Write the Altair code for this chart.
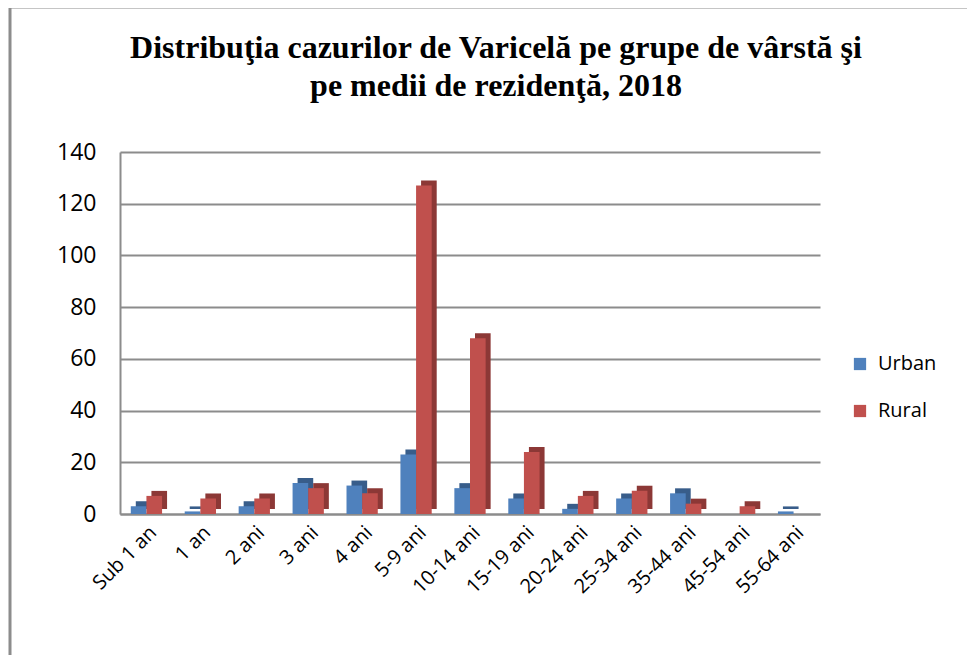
import altair as alt
import pandas as pd

categories = ["Sub 1 an", "1 an", "2 ani", "3 ani", "4 ani", "5-9 ani", "10-14 ani",
              "15-19 ani", "20-24 ani", "25-34 ani", "35-44 ani", "45-54 ani", "55-64 ani"]
urban = [3, 1, 3, 12, 11, 23, 10, 6, 2, 6, 8, 0, 1]
rural = [7, 6, 6, 10, 8, 127, 68, 24, 7, 9, 4, 3, 0]
series = ["Urban", "Rural"]
colors = ["#4F81BD", "#C0504D"]
dark_colors = ["#385D8A", "#8C3836"]

rows = []
for i, c in enumerate(categories):
    rows.append({"Grupa": c, "Mediu": "Urban", "Cazuri": urban[i]})
    rows.append({"Grupa": c, "Mediu": "Rural", "Cazuri": rural[i]})
df = pd.DataFrame(rows)

W = 700
PI, PO = 0.42, 0.2
step = W / (len(categories) - PI + 2 * PO)
bw = step * (1 - PI)
depth = 5

x_enc = alt.X("Grupa:N", sort=categories, title=None,
              scale=alt.Scale(paddingInner=PI, paddingOuter=PO),
              axis=alt.Axis(labelAngle=-45, labelFontSize=20, labelFont="Open Sans",
                            labelColor="#000000", ticks=False, domainColor="#8C8C8C",
                            domainWidth=2, labelPadding=8))
y_enc = alt.Y("Cazuri:Q", title=None,
              scale=alt.Scale(domain=[0, 140]),
              axis=alt.Axis(values=[0, 20, 40, 60, 80, 100, 120, 140], labelFontSize=23,
                            labelFont="Open Sans", labelColor="#000000", ticks=False,
                            domainColor="#8C8C8C", domainWidth=2, gridColor="#8C8C8C",
                            gridWidth=2, labelPadding=24))

side = alt.Chart(df).mark_bar(yOffset=-depth).encode(
    x=x_enc, y=y_enc,
    xOffset=alt.XOffset("Mediu:N", sort=series,
                        scale=alt.Scale(domain=series, range=[depth, bw + depth])),
    color=alt.Color("Mediu:N", sort=series, scale=alt.Scale(domain=series, range=dark_colors),
                    legend=None),
)

front = alt.Chart(df).mark_bar().encode(
    x=x_enc, y=y_enc,
    xOffset=alt.XOffset("Mediu:N", sort=series,
                        scale=alt.Scale(domain=series, range=[0, bw])),
    fill=alt.Fill("Mediu:N", sort=series, scale=alt.Scale(domain=series, range=colors),
                  legend=alt.Legend(title=None, orient="none", legendX=730, legendY=202,
                                    symbolType="square", symbolSize=150, labelFontSize=20,
                                    labelFont="Open Sans", labelColor="#000000",
                                    rowPadding=27, symbolStrokeWidth=0, labelOffset=8)),
)

frame_df = pd.DataFrame({"k": [0]})
frame_left = alt.Chart(frame_df).mark_rule(color="#8C8C8C", strokeWidth=3).encode(
    x=alt.value(-110), y=alt.value(-145), y2=alt.value(520))
frame_top = alt.Chart(frame_df).mark_rule(color="#8C8C8C", strokeWidth=3).encode(
    x=alt.value(-110), x2=alt.value(870), y=alt.value(-145))

chart = alt.layer(frame_left, frame_top, side, front).resolve_scale(
    color="independent", fill="independent", xOffset="independent"
).properties(
    width=W, height=362,
    title=alt.TitleParams(
        ["Distribuţia cazurilor de Varicelă pe grupe de vârstă şi",
         "pe medii de rezidenţă, 2018"],
        font="Liberation Serif", fontSize=32, fontWeight="bold", color="#000000",
        anchor="middle", dx=26, offset=0, dy=97, lineHeight=38),
    autosize=alt.AutoSizeParams(type="none"),
    padding={"left": 112, "top": 144, "right": 147, "bottom": 141},
).configure_view(stroke=None)

chart.save("out.html", embed_options={"renderer": "svg", "actions": False})
